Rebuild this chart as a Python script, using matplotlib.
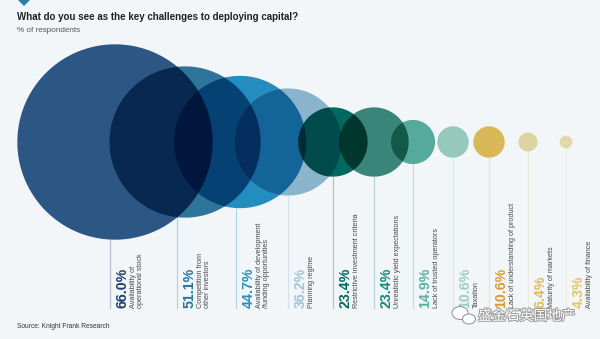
import itertools
import numpy as np
import matplotlib.pyplot as plt
from matplotlib.patches import Polygon, Ellipse
import matplotlib.patheffects as pe
from matplotlib.colors import to_rgb

# data
categories = [
    "Availability of\noperational stock",
    "Competition from\nother investors",
    "Availability of development\n/funding opportunities",
    "Planning regime",
    "Restrictive investment criteria",
    "Unrealistic yield expectations",
    "Lack of trusted operators",
    "Taxation",
    "Lack of understanding of product",
    "Maturity of markets",
    "Availability of finance",
]
values = [66.0, 51.1, 44.7, 36.2, 23.4, 23.4, 14.9, 10.6, 10.6, 6.4, 4.3]

circle_colors = ["#2c5785", "#2e759b", "#248dbf", "#8ab4cc", "#00695f", "#3a857a",
                 "#55aa9c", "#95c9bc", "#d9b957", "#ddd3a0", "#e2d8aa"]
text_colors = ["#1e3f70", "#2a74a3", "#2a8fc3", "#a3c4d9", "#006a5e", "#17897a",
               "#5ab1a2", "#9ccfc3", "#db9a33", "#e0bc58", "#e2c469"]

# layout (pixel coordinates of a 600x339 canvas)
x_center = [115, 185, 240, 288, 333, 374, 413, 453, 489, 528, 566]
x_line = [110, 177, 236, 288, 333, 374, 413, 453, 489, 528, 566]
cy = 142
px_per_pct = 1.48
y_base = 308
bg = "#f3f6f8"

plt.rcParams["font.family"] = ["Liberation Sans", "DejaVu Sans"]

fig = plt.figure(figsize=(6, 3.39), dpi=100, facecolor=bg)
ax = fig.add_axes([0, 0, 1, 1])
ax.set_xlim(0, 600)
ax.set_ylim(339, 0)
ax.axis("off")


def circle_poly(x, y, r, n=240):
    t = np.linspace(0, 2 * np.pi, n, endpoint=False)
    return [(x + r * np.cos(a), y + r * np.sin(a)) for a in t]


def clip_poly(subj, clip):
    # Sutherland-Hodgman, clip polygon convex
    def inside(p, a, b):
        return (b[0] - a[0]) * (p[1] - a[1]) - (b[1] - a[1]) * (p[0] - a[0]) >= 0

    def cross_pt(s, e, a, b):
        dx1, dy1 = e[0] - s[0], e[1] - s[1]
        dx2, dy2 = b[0] - a[0], b[1] - a[1]
        den = dx1 * dy2 - dy1 * dx2
        t = ((a[0] - s[0]) * dy2 - (a[1] - s[1]) * dx2) / den
        return (s[0] + t * dx1, s[1] + t * dy1)

    out = subj
    for i in range(len(clip)):
        a, b = clip[i], clip[(i + 1) % len(clip)]
        inp, out = out, []
        if not inp:
            break
        s = inp[-1]
        for e in inp:
            if inside(e, a, b):
                if not inside(s, a, b):
                    out.append(cross_pt(s, e, a, b))
                out.append(e)
            elif inside(s, a, b):
                out.append(cross_pt(s, e, a, b))
            s = e
    return out


radii = [v * px_per_pct for v in values]
polys = [circle_poly(x, cy, r) for x, r in zip(x_center, radii)]

# vertical stems
for i, v in enumerate(values):
    dx = x_line[i] - x_center[i]
    y0 = cy + np.sqrt(max(radii[i] ** 2 - dx ** 2, 0))
    tint = 0.3 * np.array(to_rgb(circle_colors[i])) + 0.7 * np.array(to_rgb(bg))
    ax.plot([x_line[i], x_line[i]], [y0, y_base], color=tint, lw=0.9, zorder=1)

# circles, overlaps drawn with multiply blending
for i in range(len(values)):
    ax.add_patch(Polygon(polys[i], closed=True, facecolor=circle_colors[i],
                         edgecolor="none", zorder=2))

n = len(values)
overlap = lambda i, j: abs(x_center[i] - x_center[j]) < radii[i] + radii[j] - 0.5
for k in range(2, 5):
    for combo in itertools.combinations(range(n), k):
        if not all(overlap(a, b) for a, b in itertools.combinations(combo, 2)):
            continue
        poly = polys[combo[0]]
        for c in combo[1:]:
            poly = clip_poly(poly, polys[c])
            if len(poly) < 3:
                break
        if len(poly) < 3:
            continue
        col = np.prod([to_rgb(circle_colors[c]) for c in combo], axis=0)
        ax.add_patch(Polygon(poly, closed=True, facecolor=col, edgecolor="none",
                             zorder=2 + k))

# labels
for i, v in enumerate(values):
    ax.text(x_line[i] + 16.5, y_base, f"{v:.1f}%", rotation=90, rotation_mode="anchor",
            ha="left", va="baseline", fontsize=10.2, fontweight="bold",
            color=text_colors[i], zorder=10)
    ax.text(x_line[i] + 20, y_base, categories[i], rotation=90, rotation_mode="anchor",
            ha="left", va="top", fontsize=5.2, color="#4a4a4a", linespacing=1.05,
            zorder=10)

# header / footer
ax.add_patch(Polygon([(18, 0), (30, 0), (24, 6)], closed=True, facecolor="#2a80aa",
                     edgecolor="none"))
ax.text(17, 17, "What do you see as the key challenges to deploying capital?",
        fontsize=7.0, fontweight="bold", color="#222222", va="center", ha="left")
ax.text(17, 30, "% of respondents", fontsize=5.9, color="#555555", va="center", ha="left")
ax.text(17, 326, "Source: Knight Frank Research", fontsize=4.8, color="#333333",
        va="center", ha="left")

# watermark
for (ex, ey, w, h) in [(460, 313, 16, 13), (469, 319, 13, 10)]:
    ax.add_patch(Ellipse((ex, ey), w, h, facecolor="white", edgecolor="#9a9a9a",
                         lw=0.8, zorder=20))
ax.text(478, 316, "盛金石英国地产", fontsize=10, color="white",
        family=["Noto Sans CJK SC", "DejaVu Sans"], va="center", ha="left", zorder=21,
        path_effects=[pe.withStroke(linewidth=1.4, foreground="#9a9a9a")])

fig.savefig("out.png", dpi=100, facecolor=bg)
